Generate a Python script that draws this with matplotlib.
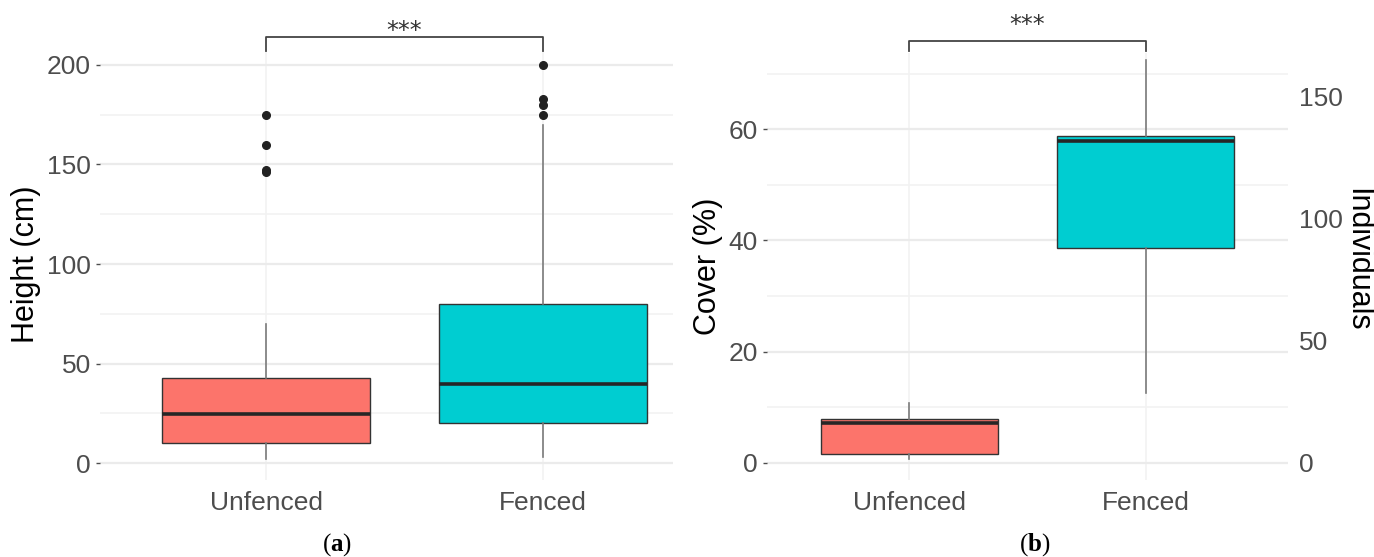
import matplotlib

matplotlib.use("Agg")
import matplotlib.pyplot as plt

# ---- data ----
groups = ["Unfenced", "Fenced"]
box_colors = ["#FC746B", "#00CDD1"]

# panel (a): height (cm)
h_whislo = [2, 3]
h_q1 = [10, 20]
h_med = [24.5, 40]
h_q3 = [43, 80]
h_whishi = [70, 170]
h_fliers = [[175, 160, 147, 146], [200, 183, 180, 175]]

# panel (b): cover (%)
c_whislo = [0.6, 12.5]
c_q1 = [1.5, 38.6]
c_med = [7.1, 57.9]
c_q3 = [7.9, 58.8]
c_whishi = [10.7, 72.5]
c_fliers = [[], []]

ind_per_cover = 2.275  # secondary axis scale: Individuals = Cover * k
ind_ticks = [0, 50, 100, 150]

TICK_GREY = "#4D4D4D"
GRID = "#EBEBEB"

plt.rcParams.update(
    {
        "font.family": ["Liberation Sans", "DejaVu Sans"],
        "mathtext.fontset": "custom",
        "mathtext.rm": "Liberation Serif",
        "mathtext.bf": "Liberation Serif:bold",
    }
)


def make_stats(lo, q1, med, q3, hi, fl):
    return [
        dict(whislo=lo[i], q1=q1[i], med=med[i], q3=q3[i], whishi=hi[i], fliers=fl[i], label=groups[i])
        for i in range(len(groups))
    ]


def draw_box(ax, stats):
    bp = ax.bxp(
        stats,
        positions=[1, 2],
        widths=0.75,
        patch_artist=True,
        showcaps=False,
        boxprops=dict(edgecolor="#333333", linewidth=1.0),
        medianprops=dict(color="#262626", linewidth=2.6, solid_capstyle="butt"),
        whiskerprops=dict(color="#7a7a7a", linewidth=1.2),
        flierprops=dict(marker="o", markerfacecolor="#222222", markeredgecolor="#222222", markersize=5.5),
        zorder=3,
    )
    for patch, col in zip(bp["boxes"], box_colors):
        patch.set_facecolor(col)
    return bp


def style_axes(ax, major, minor, ylim, xlim):
    ax.set_xlim(*xlim)
    ax.set_ylim(*ylim)
    ax.set_yticks(major)
    ax.set_yticks(minor, minor=True)
    ax.set_xticks([1, 2])
    ax.set_xticklabels(groups)
    for sp in ax.spines.values():
        sp.set_visible(False)
    ax.grid(True, which="major", axis="y", color=GRID, lw=1.6, zorder=0)
    ax.grid(True, which="minor", axis="y", color="#F2F2F2", lw=1.2, zorder=0)
    ax.grid(True, which="major", axis="x", color="#F2F2F2", lw=1.2, zorder=0)
    ax.set_axisbelow(True)
    ax.tick_params(axis="y", which="major", length=3, width=1, color=TICK_GREY, pad=3.5,
                   labelsize=19, labelcolor=TICK_GREY)
    ax.tick_params(axis="y", which="minor", length=0)
    ax.tick_params(axis="x", length=0, pad=8, labelsize=19, labelcolor=TICK_GREY)


def bracket(ax, y_top, y_bot, y_txt):
    ax.plot([1, 1, 2, 2], [y_bot, y_top, y_top, y_bot], color="#444444", lw=1.3, clip_on=False, zorder=4)
    ax.text(1.5, y_txt, "***", ha="center", va="center", fontsize=17, color="#333333",
            family="DejaVu Sans", clip_on=False)


fig = plt.figure(figsize=(13.74, 5.57), dpi=100)
fig.patch.set_facecolor("white")

# (a)
ax1 = fig.add_axes([0.0728, 0.1382, 0.417, 0.774])
draw_box(ax1, make_stats(h_whislo, h_q1, h_med, h_q3, h_whishi, h_fliers))
style_axes(ax1, [0, 50, 100, 150, 200], [25, 75, 125, 175], (-8.4, 208), (0.4, 2.47))
ax1.set_ylabel("Height (cm)", fontsize=22, color="black", labelpad=4)
bracket(ax1, 214, 207, 217)

# (b)
ax2 = fig.add_axes([0.5582, 0.1382, 0.3792, 0.7666])
draw_box(ax2, make_stats(c_whislo, c_q1, c_med, c_q3, c_whishi, c_fliers))
style_axes(ax2, [0, 20, 40, 60], [10, 30, 50, 70], (-3.1, 73.7), (0.397, 2.602))
ax2.set_ylabel("Cover (%)", fontsize=22, color="black", labelpad=4)
bracket(ax2, 75.9, 74.0, 78.7)

sec = ax2.secondary_yaxis("right", functions=(lambda v: v * ind_per_cover, lambda v: v / ind_per_cover))
sec.set_yticks(ind_ticks)
sec.tick_params(length=0, pad=8, labelsize=19, labelcolor=TICK_GREY)
for sp in sec.spines.values():
    sp.set_visible(False)
fig.text(1357 / 1374, 1 - 260 / 557, "Individuals", rotation=270, ha="center", va="center",
         fontsize=22, color="black")

# captions
fig.text(337 / 1374, 1 - 545 / 557, r"($\mathbf{a}$)", ha="center", va="center", fontsize=18,
         family="Liberation Serif")
fig.text(1035 / 1374, 1 - 545 / 557, r"($\mathbf{b}$)", ha="center", va="center", fontsize=18,
         family="Liberation Serif")

plt.savefig("out.png", dpi=100, facecolor="white")
plt.close(fig)
